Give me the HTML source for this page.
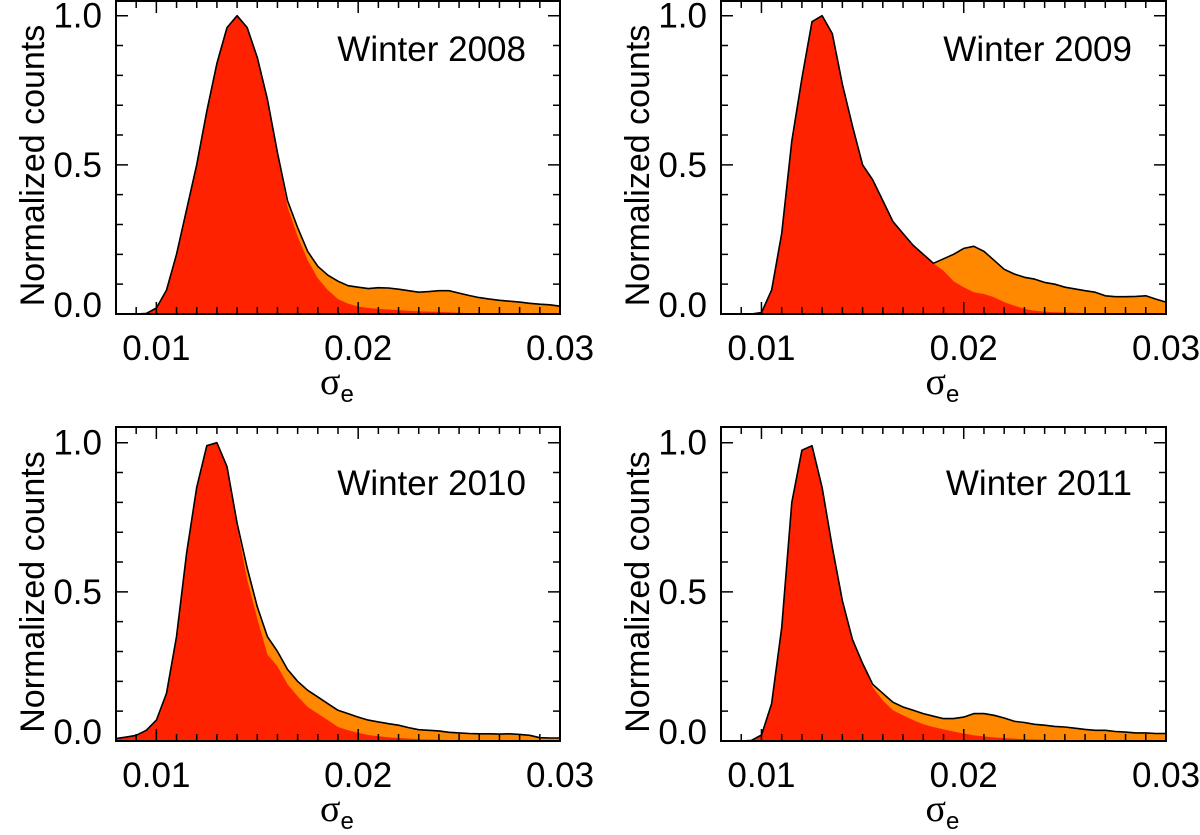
<!DOCTYPE html>
<html><head><meta charset="utf-8"><style>
body{margin:0;background:#fff;}
svg{display:block;font-family:"Liberation Sans",Arial,sans-serif;}
</style></head><body>
<svg id="c" width="1200" height="835" viewBox="0 0 1200 835"></svg>
<script>
const xStart = 0.008, xStep = 0.0005;
const xTicks = [0.01, 0.02, 0.03];
const xTickLabels = ["0.01", "0.02", "0.03"];
const yTicks = [0, 0.5, 1.0];
const yTickLabels = ["0.0", "0.5", "1.0"];
const titles = ["Winter 2008", "Winter 2009", "Winter 2010", "Winter 2011"];
const total2008 = [0,0,0,0.002,0.02,0.08,0.2,0.35,0.5,0.68,0.84,0.96,1.0,0.96,0.86,0.72,0.54,0.38,0.29,0.21,0.16,0.13,0.11,0.095,0.09,0.085,0.088,0.087,0.083,0.078,0.073,0.075,0.078,0.078,0.07,0.062,0.055,0.05,0.046,0.043,0.04,0.036,0.033,0.031,0.026];
const red2008 = [0,0,0,0.002,0.02,0.08,0.2,0.35,0.5,0.68,0.84,0.96,1.0,0.96,0.86,0.72,0.53,0.36,0.26,0.18,0.12,0.08,0.05,0.035,0.025,0.02,0.017,0.015,0.013,0.011,0.009,0.008,0.007,0.006,0.004,0.003,0.002,0.002,0.001,0.001,0,0,0,0,0];
const total2009 = [0,0,0,0,0.005,0.08,0.27,0.58,0.79,0.98,1.0,0.94,0.77,0.63,0.5,0.45,0.38,0.31,0.27,0.23,0.2,0.17,0.185,0.2,0.22,0.227,0.21,0.18,0.15,0.134,0.123,0.117,0.106,0.1,0.09,0.084,0.078,0.073,0.061,0.058,0.058,0.059,0.061,0.05,0.04];
const red2009 = [0,0,0,0,0.005,0.08,0.27,0.58,0.79,0.98,1.0,0.94,0.77,0.63,0.5,0.45,0.38,0.31,0.27,0.23,0.2,0.17,0.145,0.11,0.09,0.073,0.067,0.056,0.04,0.028,0.017,0.011,0.008,0.006,0.005,0.004,0.003,0.003,0.002,0.002,0.002,0.001,0.001,0.001,0.001];
const total2010 = [0.008,0.013,0.019,0.036,0.07,0.16,0.35,0.63,0.85,0.99,1.0,0.92,0.73,0.58,0.45,0.35,0.3,0.24,0.2,0.17,0.148,0.125,0.103,0.092,0.08,0.07,0.064,0.058,0.053,0.045,0.038,0.036,0.034,0.029,0.027,0.025,0.024,0.024,0.023,0.024,0.022,0.019,0.011,0.01,0.01];
const red2010 = [0.008,0.013,0.019,0.036,0.07,0.16,0.35,0.63,0.85,0.99,1.0,0.92,0.72,0.54,0.41,0.29,0.25,0.19,0.15,0.114,0.092,0.07,0.047,0.036,0.027,0.02,0.016,0.012,0.01,0.008,0.006,0.005,0.004,0.003,0.003,0.002,0.002,0.002,0.001,0.001,0.001,0.001,0,0,0];
const total2011 = [0,0,0,0.002,0.02,0.125,0.38,0.8,0.975,0.99,0.85,0.65,0.47,0.34,0.26,0.19,0.16,0.13,0.114,0.103,0.092,0.083,0.075,0.075,0.08,0.092,0.092,0.086,0.077,0.066,0.062,0.056,0.053,0.049,0.047,0.043,0.039,0.036,0.036,0.032,0.03,0.027,0.027,0.025,0.025];
const red2011 = [0,0,0,0.002,0.02,0.125,0.38,0.8,0.975,0.99,0.85,0.65,0.47,0.34,0.26,0.18,0.136,0.103,0.086,0.07,0.056,0.047,0.039,0.032,0.025,0.019,0.015,0.012,0.01,0.008,0.006,0.005,0.004,0.003,0.003,0.002,0.002,0.002,0.001,0.001,0.001,0.001,0.001,0.001,0];
const panels = [
  {L:116,R:560,T:1,B:314,tot:total2008,red:red2008,id:"2008"},
  {L:721,R:1166,T:1,B:314,tot:total2009,red:red2009,id:"2009"},
  {L:116,R:560,T:427,B:741,tot:total2010,red:red2010,id:"2010"},
  {L:721,R:1166,T:427,B:741,tot:total2011,red:red2011,id:"2011"}
];
const NS="http://www.w3.org/2000/svg";
const svg=document.getElementById('c');
function mk(tag,attrs,parent){const e=document.createElementNS(NS,tag);for(const k in attrs)e.setAttribute(k,attrs[k]);(parent||svg).appendChild(e);return e;}
panels.forEach((p,pi)=>{
  const g=mk('g',{});
  
  
  const xs=v=>p.L+(v-0.008)/(0.03-0.008)*(p.R-p.L);
  const y1=p.T+(pi<2?14.7:15.7);
  const ys=v=>p.B-v*(p.B-y1);
  const area=(arr)=>{let d='M'+xs(xStart)+','+p.B;arr.forEach((v,i)=>{d+=' L'+xs(xStart+i*xStep).toFixed(1)+','+ys(v).toFixed(1);});d+=' L'+xs(xStart+(arr.length-1)*xStep)+','+p.B+' Z';return d;};
  const o=mk('path',{d:area(p.tot),fill:'#ff8800'},g);
  
  
  const r=mk('path',{d:area(p.red),fill:'#ff2200'},g);
  
  
  let d='';p.tot.forEach((v,i)=>{d+=(i?' L':'M')+xs(xStart+i*xStep).toFixed(1)+','+ys(v).toFixed(1);});
  const ln=mk('path',{d:d,fill:'none',stroke:'#000','stroke-width':1.6,'stroke-linejoin':'round'},g);
  
  
  const bx=mk('rect',{x:p.L,y:p.T,width:p.R-p.L,height:p.B-p.T,fill:'none',stroke:'#000','stroke-width':2},g);
  
  
  let td='';
  for(let k=0;k<=22;k++){const v=0.008+k*0.001;const x=xs(v);const len=(Math.abs(v*100-Math.round(v*100))<1e-6)?12:7;td+=`M${x},${p.B} v${-len} M${x},${p.T} v${len} `;}
  for(let k=0;k<=10;k++){const y=ys(k/10);const len=(k%5==0)?12:7;td+=`M${p.L},${y} h${len} M${p.R},${y} h${-len} `;}
  const tk=mk('path',{d:td,stroke:'#000','stroke-width':1.5,fill:'none'},g);
  
  
  xTicks.forEach((v,i)=>{const t=mk('text',{x:xs(v),y:p.B+46,'font-size':35,'text-anchor':'middle'},g);t.textContent=xTickLabels[i];
    
    });
  yTicks.forEach((v,i)=>{const t=mk('text',{x:p.L-14,y:ys(v)+(i==0?3:12),'font-size':35,'text-anchor':'end'},g);t.textContent=yTickLabels[i];
    
    });
  const yt=mk('text',{x:0,y:0,'font-size':34,'text-anchor':'middle',transform:`translate(${p.L-72},${(p.T+p.B)/2+8}) rotate(-90)`},g);
  yt.textContent='Normalized counts';
  
  
  const xt=mk('text',{x:(p.L+p.R)/2-18,y:p.B+80,'font-size':38,'font-family':'Liberation Serif, serif'},g);
  xt.innerHTML='σ<tspan font-family="Liberation Sans, sans-serif" font-size="24" dy="8">e</tspan>';
  
  
  const tt=mk('text',{x:p.R-34,y:p.T+(pi<2?60:68),'font-size':35,'text-anchor':'end'},g);
  tt.textContent=titles[pi];
  
  
});
</script>
</body></html>
